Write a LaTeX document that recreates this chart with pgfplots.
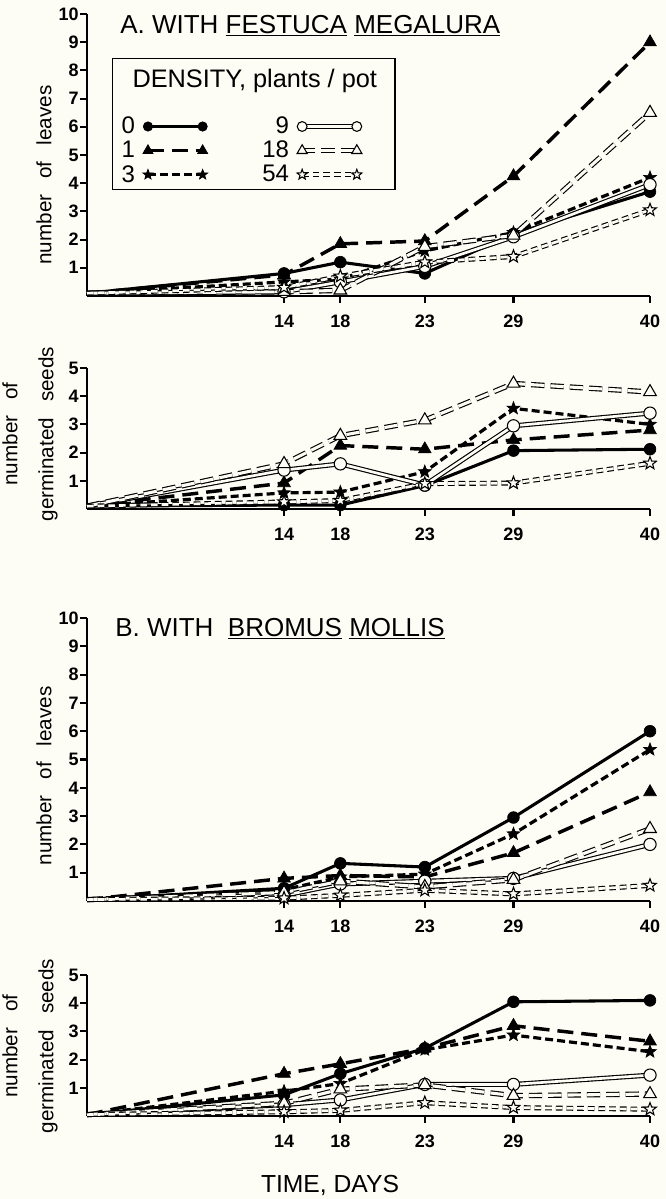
\documentclass[border=0pt]{standalone}
\usepackage{fontspec}
\setmainfont{Liberation Sans}
\usepackage{pgfplots}
\usepackage{pgfplotstable}
\pgfplotsset{compat=1.18}

\definecolor{paper}{RGB}{253,253,245}

% filled / open five-pointed star
\pgfdeclareplotmark{fivestar}{%
  \pgfpathmoveto{\pgfpointpolar{90}{\pgfplotmarksize}}%
  \pgfpathlineto{\pgfpointpolar{126}{0.42\pgfplotmarksize}}%
  \pgfpathlineto{\pgfpointpolar{162}{\pgfplotmarksize}}%
  \pgfpathlineto{\pgfpointpolar{198}{0.42\pgfplotmarksize}}%
  \pgfpathlineto{\pgfpointpolar{234}{\pgfplotmarksize}}%
  \pgfpathlineto{\pgfpointpolar{270}{0.42\pgfplotmarksize}}%
  \pgfpathlineto{\pgfpointpolar{306}{\pgfplotmarksize}}%
  \pgfpathlineto{\pgfpointpolar{342}{0.42\pgfplotmarksize}}%
  \pgfpathlineto{\pgfpointpolar{18}{\pgfplotmarksize}}%
  \pgfpathlineto{\pgfpointpolar{54}{0.42\pgfplotmarksize}}%
  \pgfpathclose
  \pgfusepathqfillstroke}

% A: with Festuca megalura -- number of leaves
\pgfplotstableread{
day  s0   s1   s3   s9   s18  s54
0    0.1  0.1  0.1  0.1  0.1  0.1
14   0.8  0.75 0.5  0.15 0.15 0.3
18   1.2  1.85 0.6  0.5  0.2  0.7
23   0.8  1.95 1.6  1.05 1.75 1.2
29   2.2  4.25 2.25 2.1  2.15 1.4
40   3.7  9.0  4.2  3.95 6.5  3.05
}\Aleaves

% A: germinated seeds
\pgfplotstableread{
day  s0   s1   s3   s9   s18  s54
0    0.1  0.1  0.1  0.1  0.1  0.1
14   0.14 0.92 0.57 1.38 1.6  0.25
18   0.14 2.25 0.6  1.6  2.6  0.3
23   0.83 2.12 1.32 0.85 3.15 0.9
29   2.07 2.45 3.57 2.95 4.45 0.92
40   2.12 2.8  3.0  3.4  4.15 1.62
}\Aseeds

% B: with Bromus mollis -- number of leaves
\pgfplotstableread{
day  s0   s1   s3   s9   s18  s54
0    0.05 0.05 0.05 0.05 0.05 0.05
14   0.45 0.8  0.4  0.2  0.3  0.1
18   1.33 0.9  0.85 0.6  0.7  0.2
23   1.2  0.85 0.95 0.7  0.5  0.38
29   2.95 1.7  2.37 0.8  0.75 0.25
40   6.0  3.85 5.35 2.0  2.55 0.55
}\Bleaves

% B: germinated seeds
\pgfplotstableread{
day  s0   s1   s3   s9   s18  s54
0    0.05 0.05 0.05 0.05 0.05 0.05
14   0.75 1.5  0.88 0.4  0.45 0.15
18   1.5  1.85 1.15 0.57 0.95 0.2
23   2.4  2.4  2.35 1.12 1.1  0.47
29   4.05 3.2  2.87 1.12 0.72 0.3
40   4.1  2.65 2.28 1.45 0.78 0.24
}\Bseeds

\pgfplotsset{
  panel/.style={
    scale only axis, width=422.25pt, anchor=south west,
    xmin=0, xmax=40, ymin=0,
    axis lines=left, axis line style={-, line width=2.2pt},
    % the day axis of the original is drawn unevenly
    x coord trafo/.code={\pgfmathparse{##1<=18 ? ##1 : (##1<=23 ? 18+(##1-18)*1.2 : (##1<=29 ? 24+(##1-23)*1.05 : 30.3+(##1-29)*0.8818))}},
    xtick={14,18,23,29,40}, xticklabels={14,18,23,29,40},
    tick align=outside, major tick length=5pt,
    every tick/.style={black, line width=1.6pt},
    tick label style={font=\fontsize{13.5}{13.5}\selectfont\bfseries},
    yticklabel style={inner sep=1pt},
    xticklabel style={yshift=-6pt},
    /pgf/number format/assume math mode=true,
    ylabel style={font=\fontsize{15.5}{27}\selectfont, anchor=center, align=center},
    clip=false,
  },
  s0/.style={black, line width=2.3pt, mark=*, mark size=4.4pt, mark phase=2,
    mark options={solid, fill=black, line width=0.5pt}},
  s1/.style={black, line width=2.6pt, dash pattern=on 12pt off 6pt, mark=triangle*, mark size=5.5pt,
    mark phase=2, mark options={solid, fill=black, line width=0.5pt}},
  s3/.style={black, line width=2.4pt, dash pattern=on 6pt off 3pt, mark=fivestar, mark size=5pt,
    mark phase=2, mark options={solid, fill=black, line width=0.5pt}},
  s9/.style={black, line width=0.85pt, double=paper, double distance=2pt, mark=*, mark size=4.6pt,
    mark phase=2, mark options={solid, fill=paper, line width=0.8pt}},
  s18/.style={black, line width=0.85pt, double=paper, double distance=2.3pt, dash pattern=on 10pt off 4.5pt,
    mark=triangle*, mark size=5.5pt, mark phase=2, mark options={solid, fill=paper, line width=0.8pt}},
  s54/.style={black, line width=0.85pt, double=paper, double distance=2pt, dash pattern=on 5pt off 3pt,
    mark=fivestar, mark size=5pt, mark phase=2, mark options={solid, fill=paper, line width=0.8pt}},
}

\newcommand{\allseries}[1]{%
  \addplot[s0]  table[x=day, y=s0]  {#1};
  \addplot[s1]  table[x=day, y=s1]  {#1};
  \addplot[s3]  table[x=day, y=s3]  {#1};
  \addplot[s9]  table[x=day, y=s9]  {#1};
  \addplot[s18] table[x=day, y=s18] {#1};
  \addplot[s54] table[x=day, y=s54] {#1};
}

\begin{document}
\begin{tikzpicture}
\fill[paper] (0pt,0pt) rectangle (499.5pt,-899.25pt);
\useasboundingbox (0pt,0pt) rectangle (499.5pt,-899.25pt);

% ---- A, leaves ----
\begin{axis}[panel, at={(65.25pt,-222pt)}, height=211.5pt,
  ymax=10, ytick={1,...,10},
  ylabel={number\hspace{12pt}of\hspace{12pt}leaves},
  ylabel style={at={(axis description cs:-0.0764,0.429)}},
  legend columns=3, transpose legend, legend plot pos=right, legend cell align=right,
  legend style={draw=none, fill=none, at={(rel axis cs:0.0585,0.64)}, anchor=north west,
    inner sep=0pt, row sep=2pt, font=\fontsize{18}{18}\selectfont,
    nodes={inner sep=1pt},
    /tikz/every odd column/.append style={column sep=5pt},
    /tikz/every even column/.append style={column sep=40pt}},
  legend image code/.code={\draw[#1, mark repeat=1, mark phase=1, every mark/.append style={scale=0.8}]
    plot coordinates {(0pt,0pt) (41pt,0pt)};},
]
\allseries{\Aleaves}
\legend{0,1,3,9,18,54}
\draw[line width=1.1pt] (rel axis cs:0.0455,0.378) rectangle (rel axis cs:0.547,0.843);
\node[anchor=base, inner sep=0pt, font=\fontsize{19}{19}\selectfont]
  at (rel axis cs:0.298,0.738) {DENSITY, plants / pot};
\end{axis}

% ---- A, germinated seeds ----
\begin{axis}[panel, at={(65.25pt,-381.75pt)}, height=105.75pt,
  ymax=5, ytick={1,...,5},
  ylabel={number\hspace{12pt}of\\germinated\hspace{12pt}seeds},
  ylabel style={at={(axis description cs:-0.101,0.532)}},
]
\allseries{\Aseeds}
\end{axis}

% ---- B, leaves ----
\begin{axis}[panel, at={(65.25pt,-675.75pt)}, height=212.25pt,
  ymax=10, ytick={1,...,10},
  ylabel={number\hspace{12pt}of\hspace{12pt}leaves},
  ylabel style={at={(axis description cs:-0.0764,0.442)}},
]
\allseries{\Bleaves}
\end{axis}

% ---- B, germinated seeds ----
\begin{axis}[panel, at={(65.25pt,-837pt)}, height=105.75pt,
  ymax=5, ytick={1,...,5},
  ylabel={number\hspace{12pt}of\\germinated\hspace{12pt}seeds},
  ylabel style={at={(axis description cs:-0.101,0.496)}},
]
\allseries{\Bseeds}
\end{axis}

\node[anchor=base west, inner sep=0pt, font=\fontsize{19.5}{19.5}\selectfont]
  at (90pt,-24.75pt) {A. WITH \underline{FESTUCA} \underline{MEGALURA}};
\node[anchor=base west, inner sep=0pt, font=\fontsize{19.5}{19.5}\selectfont]
  at (86.25pt,-477pt) {B. WITH\ \ \underline{BROMUS} \underline{MOLLIS}};
\node[anchor=base, inner sep=0pt, font=\fontsize{18.5}{18.5}\selectfont]
  at (247.5pt,-894pt) {TIME, DAYS};
\end{tikzpicture}
\end{document}
